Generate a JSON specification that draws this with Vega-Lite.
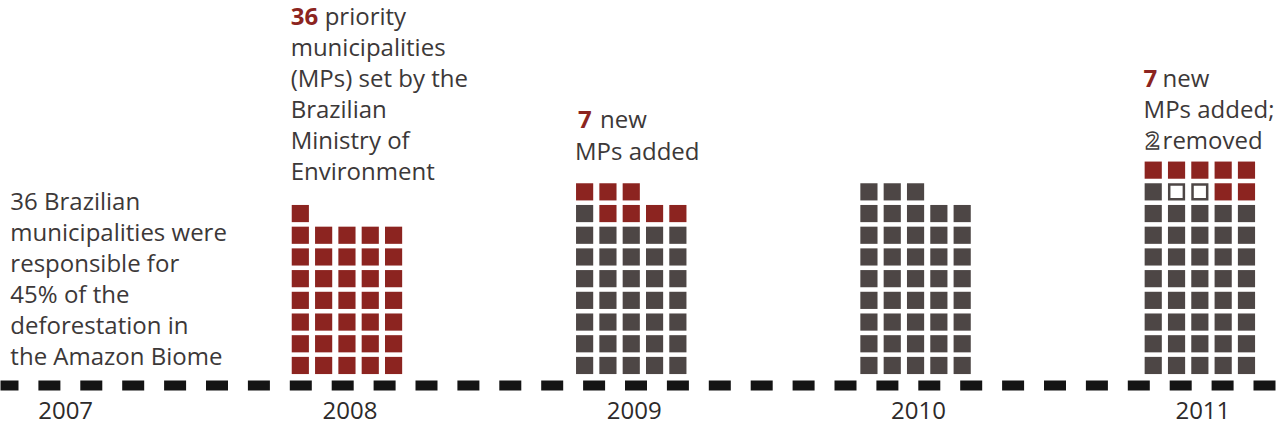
{
  "$schema": "https://vega.github.io/schema/vega-lite/v6.json",
  "width": 1278,
  "height": 385,
  "padding": {"left": 0, "right": 0, "top": 0, "bottom": 6},
  "background": "#ffffff",
  "config": {
    "view": {"stroke": null},
    "axisX": {
      "domainDash": [22, 19.9],
      "domainDashOffset": 4,
      "domainWidth": 10,
      "domainColor": "#141414",
      "ticks": false,
      "grid": false,
      "labelFontSize": 24,
      "labelFont": "Open Sans",
      "labelColor": "#2d2a2a",
      "labelPadding": 14,
      "labelOffset": 3,
      "labelAngle": 0
    }
  },
  "datasets": {
    "squares": [
      {"year":"2008","col":0,"row":0,"kind":"new"},{"year":"2008","col":1,"row":0,"kind":"new"},{"year":"2008","col":2,"row":0,"kind":"new"},{"year":"2008","col":3,"row":0,"kind":"new"},{"year":"2008","col":4,"row":0,"kind":"new"},
      {"year":"2008","col":0,"row":1,"kind":"new"},{"year":"2008","col":1,"row":1,"kind":"new"},{"year":"2008","col":2,"row":1,"kind":"new"},{"year":"2008","col":3,"row":1,"kind":"new"},{"year":"2008","col":4,"row":1,"kind":"new"},
      {"year":"2008","col":0,"row":2,"kind":"new"},{"year":"2008","col":1,"row":2,"kind":"new"},{"year":"2008","col":2,"row":2,"kind":"new"},{"year":"2008","col":3,"row":2,"kind":"new"},{"year":"2008","col":4,"row":2,"kind":"new"},
      {"year":"2008","col":0,"row":3,"kind":"new"},{"year":"2008","col":1,"row":3,"kind":"new"},{"year":"2008","col":2,"row":3,"kind":"new"},{"year":"2008","col":3,"row":3,"kind":"new"},{"year":"2008","col":4,"row":3,"kind":"new"},
      {"year":"2008","col":0,"row":4,"kind":"new"},{"year":"2008","col":1,"row":4,"kind":"new"},{"year":"2008","col":2,"row":4,"kind":"new"},{"year":"2008","col":3,"row":4,"kind":"new"},{"year":"2008","col":4,"row":4,"kind":"new"},
      {"year":"2008","col":0,"row":5,"kind":"new"},{"year":"2008","col":1,"row":5,"kind":"new"},{"year":"2008","col":2,"row":5,"kind":"new"},{"year":"2008","col":3,"row":5,"kind":"new"},{"year":"2008","col":4,"row":5,"kind":"new"},
      {"year":"2008","col":0,"row":6,"kind":"new"},{"year":"2008","col":1,"row":6,"kind":"new"},{"year":"2008","col":2,"row":6,"kind":"new"},{"year":"2008","col":3,"row":6,"kind":"new"},{"year":"2008","col":4,"row":6,"kind":"new"},
      {"year":"2008","col":0,"row":7,"kind":"new"},

      {"year":"2009","col":0,"row":0,"kind":"old"},{"year":"2009","col":1,"row":0,"kind":"old"},{"year":"2009","col":2,"row":0,"kind":"old"},{"year":"2009","col":3,"row":0,"kind":"old"},{"year":"2009","col":4,"row":0,"kind":"old"},
      {"year":"2009","col":0,"row":1,"kind":"old"},{"year":"2009","col":1,"row":1,"kind":"old"},{"year":"2009","col":2,"row":1,"kind":"old"},{"year":"2009","col":3,"row":1,"kind":"old"},{"year":"2009","col":4,"row":1,"kind":"old"},
      {"year":"2009","col":0,"row":2,"kind":"old"},{"year":"2009","col":1,"row":2,"kind":"old"},{"year":"2009","col":2,"row":2,"kind":"old"},{"year":"2009","col":3,"row":2,"kind":"old"},{"year":"2009","col":4,"row":2,"kind":"old"},
      {"year":"2009","col":0,"row":3,"kind":"old"},{"year":"2009","col":1,"row":3,"kind":"old"},{"year":"2009","col":2,"row":3,"kind":"old"},{"year":"2009","col":3,"row":3,"kind":"old"},{"year":"2009","col":4,"row":3,"kind":"old"},
      {"year":"2009","col":0,"row":4,"kind":"old"},{"year":"2009","col":1,"row":4,"kind":"old"},{"year":"2009","col":2,"row":4,"kind":"old"},{"year":"2009","col":3,"row":4,"kind":"old"},{"year":"2009","col":4,"row":4,"kind":"old"},
      {"year":"2009","col":0,"row":5,"kind":"old"},{"year":"2009","col":1,"row":5,"kind":"old"},{"year":"2009","col":2,"row":5,"kind":"old"},{"year":"2009","col":3,"row":5,"kind":"old"},{"year":"2009","col":4,"row":5,"kind":"old"},
      {"year":"2009","col":0,"row":6,"kind":"old"},{"year":"2009","col":1,"row":6,"kind":"old"},{"year":"2009","col":2,"row":6,"kind":"old"},{"year":"2009","col":3,"row":6,"kind":"old"},{"year":"2009","col":4,"row":6,"kind":"old"},
      {"year":"2009","col":0,"row":7,"kind":"old"},{"year":"2009","col":1,"row":7,"kind":"new"},{"year":"2009","col":2,"row":7,"kind":"new"},{"year":"2009","col":3,"row":7,"kind":"new"},{"year":"2009","col":4,"row":7,"kind":"new"},
      {"year":"2009","col":0,"row":8,"kind":"new"},{"year":"2009","col":1,"row":8,"kind":"new"},{"year":"2009","col":2,"row":8,"kind":"new"},

      {"year":"2010","col":0,"row":0,"kind":"old"},{"year":"2010","col":1,"row":0,"kind":"old"},{"year":"2010","col":2,"row":0,"kind":"old"},{"year":"2010","col":3,"row":0,"kind":"old"},{"year":"2010","col":4,"row":0,"kind":"old"},
      {"year":"2010","col":0,"row":1,"kind":"old"},{"year":"2010","col":1,"row":1,"kind":"old"},{"year":"2010","col":2,"row":1,"kind":"old"},{"year":"2010","col":3,"row":1,"kind":"old"},{"year":"2010","col":4,"row":1,"kind":"old"},
      {"year":"2010","col":0,"row":2,"kind":"old"},{"year":"2010","col":1,"row":2,"kind":"old"},{"year":"2010","col":2,"row":2,"kind":"old"},{"year":"2010","col":3,"row":2,"kind":"old"},{"year":"2010","col":4,"row":2,"kind":"old"},
      {"year":"2010","col":0,"row":3,"kind":"old"},{"year":"2010","col":1,"row":3,"kind":"old"},{"year":"2010","col":2,"row":3,"kind":"old"},{"year":"2010","col":3,"row":3,"kind":"old"},{"year":"2010","col":4,"row":3,"kind":"old"},
      {"year":"2010","col":0,"row":4,"kind":"old"},{"year":"2010","col":1,"row":4,"kind":"old"},{"year":"2010","col":2,"row":4,"kind":"old"},{"year":"2010","col":3,"row":4,"kind":"old"},{"year":"2010","col":4,"row":4,"kind":"old"},
      {"year":"2010","col":0,"row":5,"kind":"old"},{"year":"2010","col":1,"row":5,"kind":"old"},{"year":"2010","col":2,"row":5,"kind":"old"},{"year":"2010","col":3,"row":5,"kind":"old"},{"year":"2010","col":4,"row":5,"kind":"old"},
      {"year":"2010","col":0,"row":6,"kind":"old"},{"year":"2010","col":1,"row":6,"kind":"old"},{"year":"2010","col":2,"row":6,"kind":"old"},{"year":"2010","col":3,"row":6,"kind":"old"},{"year":"2010","col":4,"row":6,"kind":"old"},
      {"year":"2010","col":0,"row":7,"kind":"old"},{"year":"2010","col":1,"row":7,"kind":"old"},{"year":"2010","col":2,"row":7,"kind":"old"},{"year":"2010","col":3,"row":7,"kind":"old"},{"year":"2010","col":4,"row":7,"kind":"old"},
      {"year":"2010","col":0,"row":8,"kind":"old"},{"year":"2010","col":1,"row":8,"kind":"old"},{"year":"2010","col":2,"row":8,"kind":"old"},

      {"year":"2011","col":0,"row":0,"kind":"old"},{"year":"2011","col":1,"row":0,"kind":"old"},{"year":"2011","col":2,"row":0,"kind":"old"},{"year":"2011","col":3,"row":0,"kind":"old"},{"year":"2011","col":4,"row":0,"kind":"old"},
      {"year":"2011","col":0,"row":1,"kind":"old"},{"year":"2011","col":1,"row":1,"kind":"old"},{"year":"2011","col":2,"row":1,"kind":"old"},{"year":"2011","col":3,"row":1,"kind":"old"},{"year":"2011","col":4,"row":1,"kind":"old"},
      {"year":"2011","col":0,"row":2,"kind":"old"},{"year":"2011","col":1,"row":2,"kind":"old"},{"year":"2011","col":2,"row":2,"kind":"old"},{"year":"2011","col":3,"row":2,"kind":"old"},{"year":"2011","col":4,"row":2,"kind":"old"},
      {"year":"2011","col":0,"row":3,"kind":"old"},{"year":"2011","col":1,"row":3,"kind":"old"},{"year":"2011","col":2,"row":3,"kind":"old"},{"year":"2011","col":3,"row":3,"kind":"old"},{"year":"2011","col":4,"row":3,"kind":"old"},
      {"year":"2011","col":0,"row":4,"kind":"old"},{"year":"2011","col":1,"row":4,"kind":"old"},{"year":"2011","col":2,"row":4,"kind":"old"},{"year":"2011","col":3,"row":4,"kind":"old"},{"year":"2011","col":4,"row":4,"kind":"old"},
      {"year":"2011","col":0,"row":5,"kind":"old"},{"year":"2011","col":1,"row":5,"kind":"old"},{"year":"2011","col":2,"row":5,"kind":"old"},{"year":"2011","col":3,"row":5,"kind":"old"},{"year":"2011","col":4,"row":5,"kind":"old"},
      {"year":"2011","col":0,"row":6,"kind":"old"},{"year":"2011","col":1,"row":6,"kind":"old"},{"year":"2011","col":2,"row":6,"kind":"old"},{"year":"2011","col":3,"row":6,"kind":"old"},{"year":"2011","col":4,"row":6,"kind":"old"},
      {"year":"2011","col":0,"row":7,"kind":"old"},{"year":"2011","col":1,"row":7,"kind":"old"},{"year":"2011","col":2,"row":7,"kind":"old"},{"year":"2011","col":3,"row":7,"kind":"old"},{"year":"2011","col":4,"row":7,"kind":"old"},
      {"year":"2011","col":0,"row":8,"kind":"old"},{"year":"2011","col":1,"row":8,"kind":"removed"},{"year":"2011","col":2,"row":8,"kind":"removed"},{"year":"2011","col":3,"row":8,"kind":"new"},{"year":"2011","col":4,"row":8,"kind":"new"},
      {"year":"2011","col":0,"row":9,"kind":"new"},{"year":"2011","col":1,"row":9,"kind":"new"},{"year":"2011","col":2,"row":9,"kind":"new"},{"year":"2011","col":3,"row":9,"kind":"new"},{"year":"2011","col":4,"row":9,"kind":"new"}
    ],
    "notes": [
      {"id":"t2007","year":"2007","v":7.17,"label":"36 Brazilian\nmunicipalities were\nresponsible for\n45% of the\ndeforestation in\nthe Amazon Biome"},
      {"id":"t2008a","year":"2008","v":15.69,"label":"36"},
      {"id":"t2008b","year":"2008","v":15.69,"label":"priority"},
      {"id":"t2008c","year":"2008","v":14.26,"label":"municipalities\n(MPs) set by the\nBrazilian\nMinistry of\nEnvironment"},
      {"id":"t2009a","year":"2009","v":10.94,"label":"7"},
      {"id":"t2009b","year":"2009","v":10.94,"label":"new"},
      {"id":"t2009c","year":"2009","v":9.47,"label":"MPs added"},
      {"id":"t2011a","year":"2011","v":12.83,"label":"7"},
      {"id":"t2011b","year":"2011","v":12.83,"label":"new"},
      {"id":"t2011c","year":"2011","v":11.41,"label":"MPs added;"},
      {"id":"t2011d","year":"2011","v":9.98,"label":"2"},
      {"id":"t2011e","year":"2011","v":9.98,"label":"removed"}
    ]
  },
  "layer": [
    {
      "data": {"name": "squares"},
      "transform": [{"filter": "datum.kind != 'removed'"}],
      "mark": {"type": "point", "shape": "square", "filled": true, "size": 295, "opacity": 1, "strokeWidth": 0},
      "encoding": {
        "x": {"field": "year", "type": "ordinal", "title": null, "scale": {"type": "band", "domain": ["2007","2008","2009","2010","2011"], "paddingInner": 0.59, "paddingOuter": 0.0426, "align": 0.18}},
        "xOffset": {"field": "col", "type": "ordinal", "scale": {"type": "band", "domain": [0,1,2,3,4], "paddingInner": 0, "paddingOuter": 0}},
        "y": {"field": "row", "type": "quantitative", "axis": null, "scale": {"domain": [-0.9, 16.84], "nice": false, "zero": false}},
        "color": {"field": "kind", "type": "nominal", "legend": null, "scale": {"domain": ["new","old"], "range": ["#8c2420","#4d4645"]}}
      }
    },
    {
      "data": {"name": "squares"},
      "transform": [{"filter": "datum.kind == 'removed'"}],
      "mark": {"type": "point", "shape": "square", "filled": true, "fill": "#ffffff", "stroke": "#4d4645", "strokeWidth": 2.5, "size": 215, "opacity": 1},
      "encoding": {
        "x": {"field": "year", "type": "ordinal", "title": null},
        "xOffset": {"field": "col", "type": "ordinal"},
        "y": {"field": "row", "type": "quantitative", "axis": null}
      }
    },
    {
      "data": {"name": "notes"},
      "transform": [{"filter": "datum.id == 't2007'"}],
      "mark": {"type": "text", "align": "left", "baseline": "alphabetic", "font": "Open Sans", "fontSize": 24, "lineHeight": 31, "lineBreak": "\n", "color": "#3c3838", "dx": 6},
      "encoding": {
        "x": {"field": "year", "type": "ordinal", "title": null, "bandPosition": 0},
        "y": {"field": "v", "type": "quantitative", "axis": null},
        "text": {"field": "label"}
      }
    },
    {
      "data": {"name": "notes"},
      "transform": [{"filter": "datum.id == 't2008c' || datum.id == 't2009c' || datum.id == 't2011c'"}],
      "mark": {"type": "text", "align": "left", "baseline": "alphabetic", "font": "Open Sans", "fontSize": 24, "lineHeight": 31, "lineBreak": "\n", "color": "#3c3838", "dx": 2},
      "encoding": {
        "x": {"field": "year", "type": "ordinal", "title": null, "bandPosition": 0},
        "y": {"field": "v", "type": "quantitative", "axis": null},
        "text": {"field": "label"}
      }
    },
    {
      "data": {"name": "notes"},
      "transform": [{"filter": "datum.id == 't2008b'"}],
      "mark": {"type": "text", "align": "left", "baseline": "alphabetic", "font": "Open Sans", "fontSize": 24, "color": "#3c3838", "dx": 36},
      "encoding": {
        "x": {"field": "year", "type": "ordinal", "title": null, "bandPosition": 0},
        "y": {"field": "v", "type": "quantitative", "axis": null},
        "text": {"field": "label"}
      }
    },
    {
      "data": {"name": "notes"},
      "transform": [{"filter": "datum.id == 't2009b'"}],
      "mark": {"type": "text", "align": "left", "baseline": "alphabetic", "font": "Open Sans", "fontSize": 24, "color": "#3c3838", "dx": 27},
      "encoding": {
        "x": {"field": "year", "type": "ordinal", "title": null, "bandPosition": 0},
        "y": {"field": "v", "type": "quantitative", "axis": null},
        "text": {"field": "label"}
      }
    },
    {
      "data": {"name": "notes"},
      "transform": [{"filter": "datum.id == 't2011b' || datum.id == 't2011e'"}],
      "mark": {"type": "text", "align": "left", "baseline": "alphabetic", "font": "Open Sans", "fontSize": 24, "color": "#3c3838", "dx": 21},
      "encoding": {
        "x": {"field": "year", "type": "ordinal", "title": null, "bandPosition": 0},
        "y": {"field": "v", "type": "quantitative", "axis": null},
        "text": {"field": "label"}
      }
    },
    {
      "data": {"name": "notes"},
      "transform": [{"filter": "datum.id == 't2008a' || datum.id == 't2011a'"}],
      "mark": {"type": "text", "align": "left", "baseline": "alphabetic", "font": "Open Sans", "fontSize": 24, "fontWeight": "bold", "color": "#8c2420", "dx": 2},
      "encoding": {
        "x": {"field": "year", "type": "ordinal", "title": null, "bandPosition": 0},
        "y": {"field": "v", "type": "quantitative", "axis": null},
        "text": {"field": "label"}
      }
    },
    {
      "data": {"name": "notes"},
      "transform": [{"filter": "datum.id == 't2009a'"}],
      "mark": {"type": "text", "align": "left", "baseline": "alphabetic", "font": "Open Sans", "fontSize": 24, "fontWeight": "bold", "color": "#8c2420", "dx": 5},
      "encoding": {
        "x": {"field": "year", "type": "ordinal", "title": null, "bandPosition": 0},
        "y": {"field": "v", "type": "quantitative", "axis": null},
        "text": {"field": "label"}
      }
    },
    {
      "data": {"name": "notes"},
      "transform": [{"filter": "datum.id == 't2011d'"}],
      "mark": {"type": "text", "align": "left", "baseline": "alphabetic", "font": "Open Sans", "fontSize": 24, "fontWeight": "bold", "fill": "#ffffff", "stroke": "#3c3838", "strokeWidth": 1.4, "dx": 4},
      "encoding": {
        "x": {"field": "year", "type": "ordinal", "title": null, "bandPosition": 0},
        "y": {"field": "v", "type": "quantitative", "axis": null},
        "text": {"field": "label"}
      }
    }
  ]
}
